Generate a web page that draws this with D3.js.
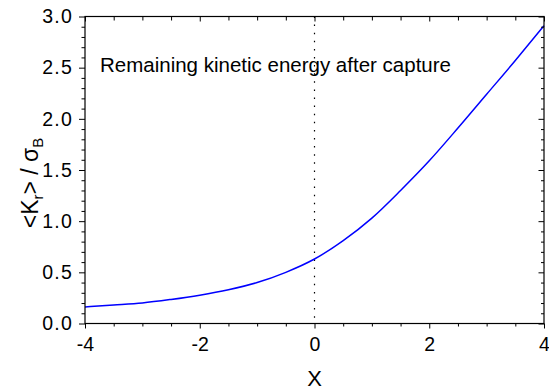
<!DOCTYPE html>
<html>
<head>
<meta charset="utf-8">
<script src="https://cdn.jsdelivr.net/npm/d3@7"></script>
<style>
  html, body { margin: 0; padding: 0; background: #fff; }
  svg { display: block; }
  text { font-family: "Liberation Sans", Arial, sans-serif; fill: #000; }
</style>
</head>
<body>
<div id="chart"></div>
<script>
// ---- data ----
const xValues = [-4, -3.5, -3, -2.5, -2, -1.5, -1, -0.5, 0, 0.5, 1, 1.5, 2, 2.5, 3, 3.5, 4];
const kineticValues = [0.162, 0.18, 0.20, 0.235, 0.277, 0.33, 0.40, 0.50, 0.63, 0.81, 1.03, 1.30, 1.59, 1.91, 2.24, 2.57, 2.91];
const xMajorTicks = [-4, -2, 0, 2, 4];
const xTickLabels = ["-4", "-2", "0", "2", "4"];
const yMajorTicks = [0, 0.5, 1.0, 1.5, 2.0, 2.5, 3.0];
const yTickLabels = ["0.0", "0.5", "1.0", "1.5", "2.0", "2.5", "3.0"];
const annotation = "Remaining kinetic energy after capture";
const markerX = 0;

(function () {
const W = 549, H = 391;
const pLeft = 85, pRight = 544, pTop = 16.5, pBottom = 323.5;

const svg = d3.select("#chart").append("svg").attr("width", W).attr("height", H);

const x = d3.scaleLinear().domain([-4, 4]).range([pLeft, pRight]);
const y = d3.scaleLinear().domain([0, 3]).range([pBottom, pTop]);

const xMinor = d3.range(-4, 4.001, 0.5).filter(v => !xMajorTicks.some(m => Math.abs(m - v) < 1e-6));
const yMinor = d3.range(0, 3.001, 0.1).filter(v => !yMajorTicks.some(m => Math.abs(m - v) < 1e-6));

function styleAxis(g) {
  g.select(".domain").remove();
  g.selectAll(".tick line").attr("stroke", "#000").attr("stroke-width", 1);
}

// dotted marker line
svg.append("line")
  .attr("x1", x(markerX)).attr("x2", x(markerX))
  .attr("y1", pTop).attr("y2", pBottom)
  .attr("stroke", "#000").attr("stroke-width", 1.2)
  .attr("stroke-dasharray", "1.5,6.6");

// curve
const line = d3.line()
  .x((d, i) => x(xValues[i]))
  .y(d => y(d))
  .curve(d3.curveMonotoneX);
svg.append("path")
  .datum(kineticValues)
  .attr("d", line)
  .attr("fill", "none")
  .attr("stroke", "#0000ff")
  .attr("stroke-width", 1.5);

// bottom axis
const gB = svg.append("g").attr("transform", `translate(0,${pBottom})`);
gB.call(d3.axisBottom(x).tickValues(xMajorTicks).tickSize(5).tickPadding(9)
  .tickFormat((d, i) => xTickLabels[i]));
styleAxis(gB);
gB.selectAll(".tick text").attr("font-size", 19.5).attr("font-family", "Liberation Sans, Arial, sans-serif");
const gBm = svg.append("g").attr("transform", `translate(0,${pBottom})`);
gBm.call(d3.axisBottom(x).tickValues(xMinor).tickSize(3).tickFormat(""));
styleAxis(gBm);

// top axis (inward)
const gT = svg.append("g").attr("transform", `translate(0,${pTop})`);
gT.call(d3.axisTop(x).tickValues(xMajorTicks).tickSize(-5).tickFormat(""));
styleAxis(gT);
const gTm = svg.append("g").attr("transform", `translate(0,${pTop})`);
gTm.call(d3.axisTop(x).tickValues(xMinor).tickSize(-4).tickFormat(""));
styleAxis(gTm);

// left axis
const gL = svg.append("g").attr("transform", `translate(${pLeft},0)`);
gL.call(d3.axisLeft(y).tickValues(yMajorTicks).tickSize(6).tickPadding(6)
  .tickFormat((d, i) => yTickLabels[i]));
styleAxis(gL);
gL.selectAll(".tick text").attr("font-size", 19.5).attr("letter-spacing", "1.2px")
  .attr("font-family", "Liberation Sans, Arial, sans-serif");
const gLm = svg.append("g").attr("transform", `translate(${pLeft},0)`);
gLm.call(d3.axisLeft(y).tickValues(yMinor).tickSize(3.5).tickFormat(""));
styleAxis(gLm);

// right axis (inward)
const gR = svg.append("g").attr("transform", `translate(${pRight},0)`);
gR.call(d3.axisRight(y).tickValues(yMajorTicks).tickSize(-5.5).tickFormat(""));
styleAxis(gR);
const gRm = svg.append("g").attr("transform", `translate(${pRight},0)`);
gRm.call(d3.axisRight(y).tickValues(yMinor).tickSize(-3).tickFormat(""));
styleAxis(gRm);

// frame
svg.append("rect")
  .attr("x", pLeft).attr("y", pTop)
  .attr("width", pRight - pLeft).attr("height", pBottom - pTop)
  .attr("fill", "none").attr("stroke", "#000").attr("stroke-width", 1.2);

// annotation
svg.append("text")
  .attr("x", 100).attr("y", 72)
  .attr("font-size", 20.5)
  .text(annotation);

// x title
svg.append("text")
  .attr("x", x(0)).attr("y", 386)
  .attr("text-anchor", "middle")
  .attr("font-size", 22)
  .text("X");

// y title
const yt = svg.append("text")
  .attr("transform", "translate(38,183) rotate(-90)")
  .attr("text-anchor", "middle")
  .attr("font-size", 23);
yt.append("tspan").text("<K");
yt.append("tspan").attr("font-size", 15).attr("dy", 5).text("r");
yt.append("tspan").attr("dy", -5).text("> / σ");
yt.append("tspan").attr("font-size", 15).attr("dy", 5).text("B");
})();
</script>
</body>
</html>
